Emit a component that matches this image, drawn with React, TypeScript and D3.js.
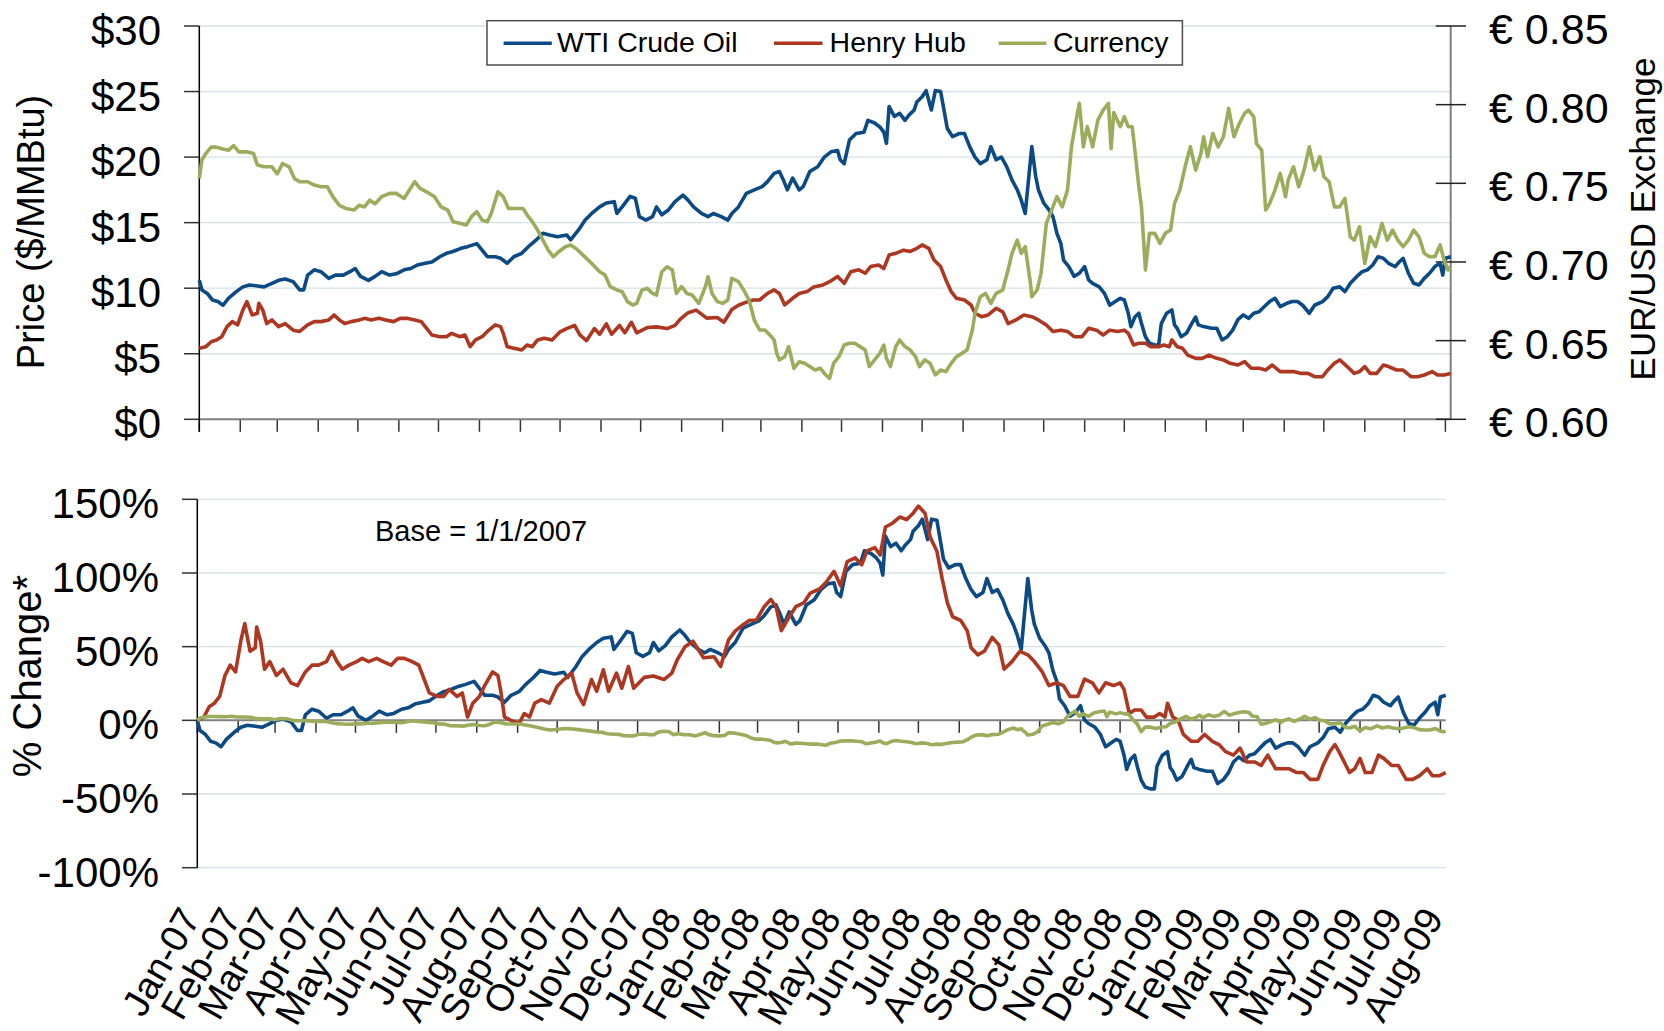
import * as d3 from "d3";

const START = new Date(2007, 0, 1);
const END = new Date(2009, 7, 5);

// [days since 1 Jan 2007, $/MMBtu]
const wtiCrude: [number, number][] = [
  [0, 10.6], [2, 9.87], [6, 9.6], [10, 9.1], [14, 8.98], [18, 8.7], [22, 9.23], [28, 9.74], [33, 10.1], [38, 10.25],
  [44, 10.17], [49, 10.1], [55, 10.37], [60, 10.6], [65, 10.7], [71, 10.5], [76, 9.87], [79, 9.87], [82, 11.0], [87, 11.4],
  [92, 11.26], [98, 10.75], [103, 11.0], [109, 11.0], [114, 11.26], [118, 11.5], [122, 10.9], [128, 10.6], [133, 10.9], [138, 11.26],
  [144, 11.0], [149, 11.1], [155, 11.4], [160, 11.5], [165, 11.77], [171, 11.9], [176, 12.0], [182, 12.4], [187, 12.66], [192, 12.8],
  [198, 13.04], [203, 13.17], [210, 13.4], [214, 12.9], [218, 12.4], [224, 12.4], [228, 12.28], [233, 11.9], [238, 12.4], [244, 12.66],
  [249, 13.17], [255, 13.68], [260, 14.19], [265, 14.06], [271, 13.93], [278, 14.06], [281, 13.68], [287, 14.44], [292, 15.2], [297, 15.7],
  [303, 16.2], [308, 16.5], [314, 16.6], [316, 15.7], [320, 16.2], [326, 17.0], [330, 16.86], [333, 15.46], [338, 15.2], [343, 15.46],
  [346, 16.2], [350, 15.6], [355, 15.97], [360, 16.6], [366, 17.1], [370, 16.7], [374, 16.2], [380, 15.7], [385, 15.46], [389, 15.7],
  [395, 15.46], [400, 15.2], [403, 15.7], [408, 16.2], [414, 17.24], [420, 17.5], [426, 17.75], [430, 18.13], [435, 18.76], [439, 18.9],
  [442, 18.26], [445, 17.5], [449, 18.4], [454, 17.5], [457, 17.75], [462, 18.9], [468, 19.27], [473, 20.0], [478, 20.4], [483, 20.5],
  [485, 19.8], [488, 19.5], [492, 21.3], [497, 21.8], [503, 21.9], [506, 22.8], [511, 22.6], [515, 22.3], [518, 21.9], [520, 21.05],
  [522, 23.85], [526, 23.1], [530, 23.34], [534, 22.8], [537, 23.2], [541, 23.6], [543, 24.2], [547, 24.6], [550, 25.07], [554, 23.6],
  [557, 25.07], [561, 25.0], [564, 23.34], [566, 22.2], [570, 21.56], [575, 21.8], [579, 21.8], [583, 20.8], [587, 20.0], [591, 19.5],
  [596, 19.8], [599, 20.8], [603, 19.8], [607, 20.0], [611, 19.27], [615, 18.26], [619, 17.5], [622, 16.73], [625, 15.7], [627, 17.75],
  [630, 20.8], [633, 18.5], [635, 17.5], [639, 16.5], [643, 15.97], [646, 15.46], [649, 14.19], [652, 13.4], [654, 12.15], [658, 11.65],
  [662, 10.9], [666, 11.14], [670, 11.65], [673, 10.63], [676, 10.37], [681, 10.1], [685, 9.6], [689, 8.7], [692, 8.9], [697, 9.23],
  [700, 9.1], [703, 8.09], [705, 7.07], [708, 7.8], [711, 8.09], [713, 7.3], [716, 6.3], [719, 5.8], [723, 5.67], [726, 5.67],
  [728, 7.3], [732, 8.09], [736, 8.34], [738, 7.2], [740, 6.94], [743, 6.3], [747, 6.56], [751, 7.3], [754, 7.8], [756, 7.2],
  [760, 7.07], [766, 6.94], [770, 6.94], [774, 6.05], [778, 6.3], [782, 6.8], [786, 7.6], [790, 7.96], [794, 7.7], [798, 8.09],
  [802, 8.2], [806, 8.6], [810, 8.98], [814, 9.23], [818, 8.6], [823, 8.85], [827, 8.98], [831, 8.98], [835, 8.7], [840, 8.09],
  [844, 8.7], [850, 8.98], [854, 9.36], [858, 10.0], [863, 10.1], [867, 9.74], [871, 10.37], [876, 10.9], [880, 11.26], [884, 11.4],
  [888, 11.77], [892, 12.4], [896, 12.28], [900, 11.9], [905, 11.65], [908, 12.0], [911, 12.28], [915, 11.14], [919, 10.37], [923, 10.25],
  [927, 10.75], [931, 11.14], [935, 11.65], [939, 11.9], [941, 11.0], [943, 12.28], [947, 12.4],
];

const henryHub: [number, number][] = [
  [0, 5.42], [5, 5.54], [9, 5.92], [13, 6.05], [17, 6.3], [21, 7.07], [25, 7.45], [29, 7.2], [33, 8.34], [36, 8.98],
  [40, 7.96], [44, 8.09], [45, 8.85], [48, 8.34], [51, 7.3], [55, 7.58], [60, 7.07], [65, 7.3], [71, 6.8], [76, 6.7],
  [82, 7.2], [87, 7.45], [92, 7.45], [98, 7.58], [102, 7.96], [106, 7.58], [110, 7.3], [115, 7.45], [121, 7.58], [125, 7.7],
  [130, 7.58], [136, 7.7], [141, 7.58], [147, 7.45], [152, 7.7], [157, 7.7], [163, 7.58], [168, 7.45], [172, 6.94], [176, 6.43],
  [182, 6.3], [187, 6.3], [191, 6.56], [197, 6.3], [201, 6.43], [205, 5.54], [209, 6.05], [214, 6.3], [218, 6.7], [224, 7.2],
  [228, 7.07], [230, 6.56], [233, 5.54], [238, 5.42], [244, 5.29], [248, 5.67], [252, 5.54], [256, 6.05], [261, 6.18], [267, 6.05],
  [273, 6.67], [278, 6.92], [284, 7.16], [288, 6.44], [293, 6.0], [299, 6.92], [303, 6.49], [308, 7.28], [312, 6.49], [318, 7.16],
  [322, 6.6], [327, 7.4], [331, 6.6], [339, 7.0], [346, 7.05], [354, 6.92], [360, 7.16], [364, 7.64], [370, 8.13], [376, 8.33],
  [384, 7.72], [392, 7.76], [397, 7.4], [403, 8.38], [408, 8.7], [414, 8.94], [419, 9.1], [424, 9.1], [430, 9.6], [435, 9.87],
  [439, 9.6], [443, 8.72], [449, 9.23], [454, 9.6], [460, 9.74], [465, 10.1], [472, 10.25], [477, 10.5], [483, 10.9], [488, 10.37],
  [493, 11.26], [499, 11.4], [504, 11.14], [508, 11.65], [514, 11.77], [518, 11.5], [522, 12.53], [527, 12.66], [533, 12.9], [538, 12.8],
  [543, 13.04], [547, 13.3], [552, 13.04], [556, 12.15], [561, 11.65], [565, 10.63], [569, 9.74], [573, 9.23], [579, 9.1], [584, 8.72],
  [587, 8.09], [592, 7.83], [597, 7.96], [603, 8.47], [608, 8.2], [612, 7.3], [618, 7.58], [624, 7.96], [630, 7.83], [635, 7.58],
  [641, 7.2], [646, 6.7], [652, 6.8], [657, 6.7], [662, 6.3], [668, 6.3], [673, 6.94], [679, 6.8], [684, 6.43], [689, 6.8],
  [695, 6.7], [700, 6.8], [703, 6.56], [707, 5.67], [711, 5.8], [716, 5.8], [720, 5.54], [726, 5.54], [730, 5.67], [734, 5.54],
  [736, 6.05], [740, 5.54], [744, 5.42], [748, 4.9], [754, 4.65], [759, 4.65], [764, 4.9], [770, 4.65], [775, 4.53], [780, 4.27],
  [786, 4.14], [791, 4.4], [796, 3.89], [802, 3.89], [807, 3.76], [812, 4.14], [818, 3.64], [823, 3.64], [828, 3.64], [834, 3.5],
  [839, 3.5], [844, 3.25], [850, 3.25], [854, 3.76], [859, 4.27], [863, 4.53], [866, 4.27], [870, 3.89], [874, 3.5], [878, 3.64],
  [882, 4.02], [886, 3.5], [891, 3.5], [896, 4.14], [900, 4.02], [906, 3.76], [911, 3.76], [917, 3.25], [922, 3.25], [927, 3.38],
  [933, 3.64], [937, 3.38], [942, 3.38], [947, 3.5],
];

// [days since 1 Jan 2007, euros per US dollar]
const currency: [number, number][] = [
  [0, 0.753], [2, 0.765], [5, 0.769], [9, 0.773], [13, 0.773], [17, 0.772], [22, 0.771], [26, 0.774], [30, 0.77], [36, 0.77],
  [41, 0.769], [44, 0.7616], [49, 0.7605], [55, 0.7605], [59, 0.756], [63, 0.7626], [68, 0.7605], [72, 0.753], [76, 0.751], [82, 0.751],
  [87, 0.7489], [92, 0.7478], [97, 0.7478], [101, 0.7415], [106, 0.736], [111, 0.734], [117, 0.733], [121, 0.736], [125, 0.735], [129, 0.7393],
  [133, 0.737], [138, 0.7415], [144, 0.7436], [149, 0.7436], [155, 0.7404], [159, 0.7457], [163, 0.751], [167, 0.7468], [172, 0.7446], [178, 0.7415],
  [183, 0.735], [188, 0.733], [192, 0.7256], [198, 0.7245], [202, 0.7235], [206, 0.7288], [210, 0.732], [214, 0.7266], [218, 0.7256], [221, 0.731],
  [226, 0.7446], [230, 0.7415], [234, 0.734], [240, 0.734], [245, 0.734], [248, 0.73], [252, 0.7256], [256, 0.7203], [260, 0.7139], [264, 0.7076],
  [268, 0.7033], [272, 0.7065], [277, 0.7097], [281, 0.7108], [285, 0.7086], [289, 0.7055], [293, 0.7023], [297, 0.699], [303, 0.6938], [307, 0.6917],
  [311, 0.6843], [316, 0.6822], [320, 0.6811], [324, 0.6748], [328, 0.6726], [331, 0.6737], [335, 0.6822], [339, 0.6832], [343, 0.68], [346, 0.679],
  [350, 0.6938], [354, 0.697], [358, 0.6949], [361, 0.68], [365, 0.6843], [369, 0.68], [373, 0.679], [378, 0.6737], [383, 0.6843], [385, 0.6906],
  [388, 0.68], [392, 0.6748], [396, 0.6737], [400, 0.6758], [403, 0.6896], [408, 0.6875], [412, 0.6822], [416, 0.6758], [420, 0.6631], [424, 0.6568],
  [428, 0.6568], [433, 0.6525], [435, 0.6504], [437, 0.6419], [439, 0.6377], [443, 0.6398], [446, 0.6462], [450, 0.6324], [454, 0.6366], [458, 0.6356],
  [462, 0.6335], [466, 0.6313], [470, 0.6324], [474, 0.6282], [477, 0.626], [480, 0.6356], [484, 0.6398], [488, 0.6472], [492, 0.6483], [496, 0.6483],
  [500, 0.6462], [504, 0.644], [507, 0.6335], [511, 0.6377], [515, 0.6419], [518, 0.6472], [520, 0.6388], [523, 0.6335], [527, 0.6462], [530, 0.6504],
  [534, 0.6462], [538, 0.644], [542, 0.6398], [545, 0.6335], [549, 0.6377], [553, 0.6356], [557, 0.6282], [561, 0.6313], [565, 0.6303], [569, 0.6356],
  [573, 0.6398], [577, 0.6419], [581, 0.644], [585, 0.6568], [587, 0.6673], [591, 0.6779], [595, 0.68], [599, 0.6737], [603, 0.68], [608, 0.6822],
  [612, 0.6949], [615, 0.7055], [619, 0.7139], [622, 0.7055], [625, 0.7097], [629, 0.6864], [630, 0.6779], [634, 0.6822], [637, 0.6928], [641, 0.7245],
  [645, 0.733], [649, 0.7415], [653, 0.735], [657, 0.7457], [660, 0.7732], [664, 0.7923], [666, 0.8008], [669, 0.7732], [672, 0.786], [676, 0.7732],
  [680, 0.7902], [684, 0.7965], [688, 0.8008], [690, 0.772], [692, 0.795], [697, 0.786], [700, 0.7923], [703, 0.786], [706, 0.786], [708, 0.7711],
  [711, 0.7478], [713, 0.735], [716, 0.6949], [719, 0.7182], [723, 0.7182], [727, 0.7118], [731, 0.7182], [735, 0.7203], [738, 0.7372], [742, 0.7457],
  [746, 0.7605], [750, 0.7732], [754, 0.7584], [758, 0.769], [760, 0.7796], [763, 0.7669], [767, 0.7817], [771, 0.7732], [775, 0.7796], [779, 0.7976],
  [783, 0.7796], [787, 0.788], [791, 0.7944], [794, 0.7965], [798, 0.7923], [800, 0.7753], [804, 0.7711], [807, 0.733], [810, 0.7372], [814, 0.7457],
  [818, 0.7563], [822, 0.7415], [824, 0.752], [828, 0.7605], [832, 0.7478], [836, 0.7584], [840, 0.7732], [844, 0.7584], [848, 0.7669], [851, 0.7542],
  [855, 0.751], [859, 0.735], [863, 0.735], [867, 0.7404], [871, 0.716], [874, 0.7139], [878, 0.7224], [882, 0.6991], [886, 0.716], [890, 0.7097],
  [895, 0.7245], [899, 0.7139], [903, 0.7203], [907, 0.7139], [911, 0.7097], [915, 0.7139], [919, 0.7203], [923, 0.716], [927, 0.7055], [931, 0.7033],
  [935, 0.7033], [939, 0.7108], [942, 0.7012], [945, 0.6949], [947, 0.697],
];

const priceTicks = [0, 5, 10, 15, 20, 25, 30];
const euroTicks = [0.6, 0.65, 0.7, 0.75, 0.8, 0.85];
const changeTicks = [-100, -50, 0, 50, 100, 150];

const FONT = "'Liberation Sans', Arial, Helvetica, sans-serif";
const BLUE = "#0b4a84";
const RED = "#ae3721";
const GREEN = "#9bad5c";
const GRID = "#d6e2e6";
const AXIS_GRAY = "#808080";

const TOP = { left: 199.3, right: 1450.7, top: 26, bottom: 419.3 };
const BOT = { left: 197.3, right: 1445.7, top: 499.3, bottom: 867.7 };

const toDate = (d: number) => d3.timeDay.offset(START, d);

// percent change against the first value (base = 1/1/2007)
const pctChange = (s: [number, number][]): [number, number][] =>
  s.map(([d, v]) => [d, (v / s[0][1] - 1) * 100]);

const legendItems = [
  { name: "WTI Crude Oil", color: BLUE, x0: 503.6, x1: 551.8, tx: 557 },
  { name: "Henry Hub", color: RED, x0: 774, x1: 822.5, tx: 829.6 },
  { name: "Currency", color: GREEN, x0: 998.6, x1: 1046.4, tx: 1052.9 },
];

export default function App() {
  const months = d3.timeMonth.range(START, END);
  const monthLabel = d3.timeFormat("%b-%y");

  const xTop = d3.scaleTime().domain([START, END]).range([TOP.left, TOP.right]);
  const xBot = d3.scaleTime().domain([START, END]).range([BOT.left, BOT.right]);
  const yPrice = d3.scaleLinear().domain([0, 30]).range([TOP.bottom, TOP.top]);
  const yEuro = d3.scaleLinear().domain([0.6, 0.85]).range([TOP.bottom, TOP.top]);
  const yPct = d3.scaleLinear().domain([-100, 150]).range([BOT.bottom, BOT.top]);

  const topLine = (y: d3.ScaleLinear<number, number>) =>
    d3
      .line<[number, number]>()
      .x((d) => xTop(toDate(d[0])))
      .y((d) => y(d[1]));
  const botLine = d3
    .line<[number, number]>()
    .x((d) => xBot(toDate(d[0])))
    .y((d) => yPct(d[1]));

  const lineStyle = { fill: "none", strokeWidth: 3.6, strokeLinejoin: "round" as const };

  return (
    <svg
      width={1664}
      height={1031}
      style={{ position: "absolute", left: 0, top: 0, background: "#fff" }}
      fontFamily={FONT}
    >
      {/* ---------- top panel ---------- */}
      {priceTicks.filter((t) => t > 0).map((t) => (
        <line key={`g-${t}`} x1={TOP.left} x2={TOP.right} y1={yPrice(t)} y2={yPrice(t)} stroke={GRID} strokeWidth={1.3} />
      ))}
      {priceTicks.map((t) => (
        <g key={`p-${t}`}>
          <line x1={184} x2={TOP.left} y1={yPrice(t)} y2={yPrice(t)} stroke="#333" strokeWidth={1.5} />
          <text x={161} y={yPrice(t) + 19} textAnchor="end" fontSize={42} fill="#000">
            ${t}
          </text>
        </g>
      ))}
      {months.map((m) => (
        <line key={`tt-${+m}`} x1={xTop(m)} x2={xTop(m)} y1={TOP.bottom} y2={TOP.bottom + 12.5} stroke="#333" strokeWidth={1.5} />
      ))}
      <line x1={TOP.left} x2={TOP.right} y1={TOP.bottom} y2={TOP.bottom} stroke={AXIS_GRAY} strokeWidth={2} />
      <line x1={TOP.left} x2={TOP.left} y1={TOP.top} y2={TOP.bottom + 12.5} stroke="#000" strokeWidth={1.5} />
      <line x1={TOP.right} x2={TOP.right} y1={TOP.top} y2={TOP.bottom} stroke={AXIS_GRAY} strokeWidth={2} />
      {euroTicks.map((t) => (
        <g key={`e-${t}`}>
          <line x1={1435.7} x2={1466} y1={yEuro(t)} y2={yEuro(t)} stroke="#222" strokeWidth={1.5} />
          <text x={1489} y={yEuro(t) + 18} fontSize={43} fill="#000">
            {`€ ${t.toFixed(2)}`}
          </text>
        </g>
      ))}

      <path d={topLine(yPrice)(wtiCrude) || ""} stroke={BLUE} {...lineStyle} />
      <path d={topLine(yPrice)(henryHub) || ""} stroke={RED} {...lineStyle} />
      <path d={topLine(yEuro)(currency) || ""} stroke={GREEN} {...lineStyle} />

      <text transform="translate(44,232) rotate(-90)" textAnchor="middle" fontSize={38} fill="#000">
        Price ($/MMBtu)
      </text>
      <text transform="translate(1655,219) rotate(-90)" textAnchor="middle" fontSize={35} fill="#000">
        EUR/USD Exchange
      </text>

      {/* legend */}
      <rect x={487} y={20.7} width={695.4} height={44.3} fill="#fff" stroke="#4d4d4d" strokeWidth={1.5} />
      {legendItems.map((it) => (
        <g key={it.name}>
          <line x1={it.x0} x2={it.x1} y1={43.3} y2={43.3} stroke={it.color} strokeWidth={3.6} />
          <text x={it.tx} y={51.7} fontSize={28.5} fill="#000">
            {it.name}
          </text>
        </g>
      ))}

      {/* ---------- bottom panel ---------- */}
      {changeTicks.filter((t) => t !== 0).map((t) => (
        <line key={`gb-${t}`} x1={BOT.left} x2={BOT.right} y1={yPct(t)} y2={yPct(t)} stroke={GRID} strokeWidth={1.3} />
      ))}
      {changeTicks.map((t) => (
        <g key={`c-${t}`}>
          <line x1={182} x2={BOT.left} y1={yPct(t)} y2={yPct(t)} stroke="#333" strokeWidth={1.5} />
          <text x={159} y={yPct(t) + 19} textAnchor="end" fontSize={42} fill="#000">
            {`${t}%`}
          </text>
        </g>
      ))}
      {months.map((m) => (
        <line key={`tb-${+m}`} x1={xBot(m)} x2={xBot(m)} y1={yPct(0)} y2={yPct(0) + 12.5} stroke="#333" strokeWidth={1.5} />
      ))}
      <line x1={BOT.left} x2={BOT.right} y1={yPct(0)} y2={yPct(0)} stroke={AXIS_GRAY} strokeWidth={2} />
      <line x1={BOT.left} x2={BOT.left} y1={BOT.top} y2={BOT.bottom} stroke="#000" strokeWidth={1.5} />

      <path d={botLine(pctChange(wtiCrude)) || ""} stroke={BLUE} {...lineStyle} />
      <path d={botLine(pctChange(henryHub)) || ""} stroke={RED} {...lineStyle} />
      <path d={botLine(pctChange(currency)) || ""} stroke={GREEN} {...lineStyle} />

      <text x={375} y={541} fontSize={29} fill="#000">
        Base = 1/1/2007
      </text>
      <text transform="translate(41,676) rotate(-90)" textAnchor="middle" fontSize={40} fill="#000">
        % Change*
      </text>

      {months.map((m) => (
        <text
          key={`ml-${+m}`}
          transform={`translate(${xBot(m) + 4},918) rotate(-60)`}
          textAnchor="end"
          fontSize={38}
          fill="#000"
        >
          {monthLabel(m)}
        </text>
      ))}
    </svg>
  );
}
